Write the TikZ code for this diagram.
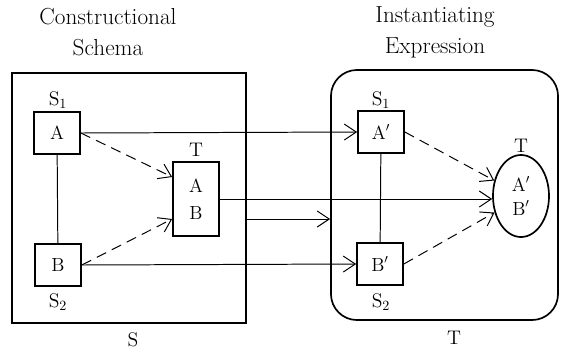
\documentclass[tikz,border=0pt]{standalone}
\usepackage{amsmath}
\usetikzlibrary{arrows.meta,shapes.geometric,positioning}
\tikzset{
    % small boxes for the parts
    partbox/.style={
        rectangle, draw, line width=1.2pt,
        minimum width=1.15cm, minimum height=1.05cm, inner sep=0pt,
        font=\fontsize{13.5}{16}\selectfont
    },
    % big frames round each side
    frame/.style={
        rectangle, draw, line width=1.2pt, inner sep=0pt
    },
    % captions
    caption/.style={align=center, font=\fontsize{16.5}{22}\selectfont},
    tag/.style={font=\fontsize{14}{16}\selectfont, inner sep=1pt},
    % connectors
    link/.style={line width=0.7pt, -{Straight Barb[length=3mm,width=4mm]}},
    dashlink/.style={link, dash pattern=on 2.6mm off 1.6mm},
}

\begin{document}
\begin{tikzpicture}[x=0.025cm,y=-0.025cm]
  \useasboundingbox (0,0) rectangle (561,351);

  % --- frames ---
  \node[frame, minimum width=5.85cm, minimum height=6.25cm] (schema) at (129,198) {};
  \node[frame, rounded corners=0.65cm, minimum width=5.675cm, minimum height=6.25cm] (expr) at (444.5,195) {};
  \node[caption] (schemacap) at (108,32) {Constructional\\Schema};
  \node[caption] (exprcap) at (435,32) {Instantiating\\Expression};
  \node[tag] (schemalab) at (133,340) {S};
  \node[tag] (exprlab) at (454,338) {T};

  % --- schema side ---
  \node[partbox] (a) at (57,133) {A};
  \node[partbox] (b) at (58,265) {B};
  \node[partbox, minimum height=1.85cm, align=center] (t) at (196,199) {A\\[3pt]B};
  \node[tag] (as) at (58,100) {S$_1$};
  \node[tag] (bs) at (58,302) {S$_2$};
  \node[tag] (ts) at (196,150) {T};

  % --- expression side ---
  \node[partbox] (a2) at (381,132) {A$'$};
  \node[partbox] (b2) at (380,264) {B$'$};
  \node[ellipse, draw, line width=1.2pt, minimum width=1.4cm, minimum height=2.05cm,
        inner sep=0pt, align=center, font=\fontsize{13.5}{16}\selectfont] (e) at (521,196) {A$'$\\[1pt]B$'$};
  \node[tag] (a2s) at (381,100) {S$_1$};
  \node[tag] (b2s) at (381,302) {S$_2$};
  \node[tag] (es) at (521,146) {T};

  % --- connectors ---
  \draw[line width=0.7pt] (a) -- (b);
  \draw[line width=0.7pt] (a2) -- (b2);
  \draw[dashlink] (a.east) -- ([yshift=0.55cm]t.west);
  \draw[dashlink] (b.east) -- ([yshift=-0.5cm]t.west);
  \draw[dashlink] (a2.east) -- (e.150);
  \draw[dashlink] (b2.east) -- (e.212);
  \draw[link] (a.east) -- (a2.west);
  \draw[link] (b.east) -- (b2.west);
  \draw[link] (t.east) -- (t.east -| e.west);
  \coordinate (mid) at (0,219);
  \draw[link] (schema.east |- mid) -- (expr.west |- mid);
\end{tikzpicture}
\end{document}
